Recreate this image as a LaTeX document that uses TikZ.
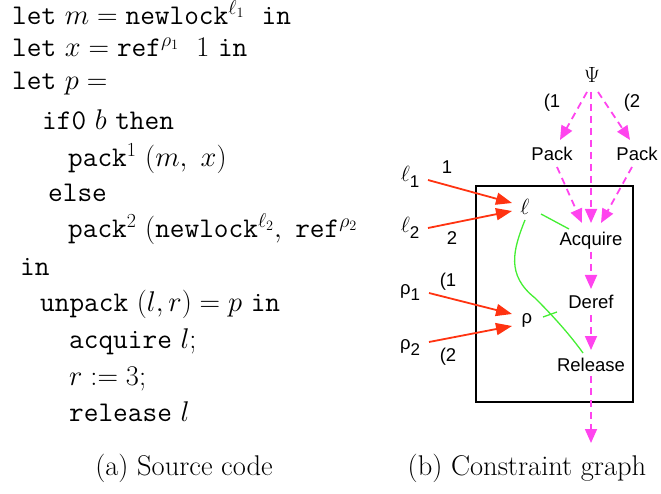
\RequirePackage{fix-cm}
\documentclass[tikz,border=0pt]{standalone}
\usepackage{fontspec}
\newfontfamily\gsf{Liberation Sans}
\usetikzlibrary{arrows.meta}
\definecolor{pinkc}{HTML}{FF44EE}
\definecolor{redc}{HTML}{FF3311}
\definecolor{greenc}{HTML}{44EE33}
\newcommand{\gsub}[1]{\raisebox{-6pt}{\gsf\fontsize{17}{17}\selectfont #1}}
\begin{document}
\begin{tikzpicture}[x=1pt,y=-1pt,
  code/.style={anchor=base west, inner sep=0pt, font=\fontsize{28.5}{34}\selectfont},
  capt/.style={anchor=base, inner sep=0pt, font=\fontsize{28.5}{34}\selectfont},
  glabel/.style={inner sep=1pt, font=\gsf\fontsize{18.5}{20}\selectfont},
  mlabel/.style={inner sep=1pt, font=\fontsize{22}{23}\selectfont},
  pinkarrow/.style={pinkc, line width=1.8pt, dash pattern=on 7pt off 5pt, -{Triangle[length=14pt,width=12pt]}},
  redarrow/.style={redc, line width=1.8pt, -{Triangle[length=16pt,width=12pt]}},
  greenline/.style={greenc, line width=1.3pt}]
\useasboundingbox (0,0) rectangle (661,494);
% ---------- source code ----------
\node[code] (c1) at (12,25) {\texttt{let} $m = \texttt{newlock}^{\ell_1}$~~\texttt{in}};
\node[code] (c2) at (12,57) {\texttt{let} $x = \texttt{ref}^{\rho_1}$~~$1$ \texttt{in}};
\node[code] (c3) at (12,90) {\texttt{let} $p =$};
\node[code] (c4) at (42,130) {\texttt{if0} $b$ \texttt{then}};
\node[code] (c5) at (68,167) {$\texttt{pack}^1$ $(m,~x)$};
\node[code] (c6) at (48,202) {\texttt{else}};
\begin{scope}
\clip (0,0) rectangle (381,494);
\node[code] (c7) at (68,238) {$\texttt{pack}^2$~$(\texttt{newlock}^{\ell_2},~\texttt{ref}^{\rho_2}$};
\end{scope}
\node[code] (c8) at (20,276) {\texttt{in}};
\node[code] (c9) at (40,312) {\texttt{unpack} $(l,r) = p$ \texttt{in}};
\node[code] (c10) at (69,348) {\texttt{acquire} $l$;};
\node[code] (c11) at (69,385) {$r := 3$;};
\node[code] (c12) at (69,421) {\texttt{release} $l$};
\node[capt] (capa) at (184,475) {(a) Source code};
\node[capt] (capb) at (527,475) {(b) Constraint graph};
% ---------- constraint graph ----------
\draw[line width=1.2pt] (476,186) rectangle (633,402);
\node[mlabel] (psi) at (592,75) {$\Psi$};
\node[glabel] (o1) at (552,103) {(1};
\node[glabel] (o2) at (632,103) {(2};
\node[glabel] (packL) at (552,154) {Pack};
\node[glabel] (packR) at (637,154) {Pack};
\node[mlabel] (ell) at (525,207) {$\ell$};
\node[glabel] (acq) at (591,241) {Acquire};
\node[glabel] (deref) at (591,302) {Deref};
\node[glabel] (rho) at (527,320) {ρ};
\node[glabel] (rel) at (591,365) {Release};
\coordinate (out) at (591,443);
\node[mlabel] (ell1) at (410,177) {$\ell$\gsub{1}};
\node[mlabel] (ell2) at (410,228) {$\ell$\gsub{2}};
\node[glabel] (rho1) at (410,293) {ρ\gsub{1}};
\node[glabel] (rho2) at (410,348) {ρ\gsub{2}};
\node[glabel] (n1) at (447,167) {1};
\node[glabel] (n2) at (452,238) {2};
\node[glabel] (p1) at (448,282) {(1};
\node[glabel] (p2) at (448,357) {(2};
% pink arrows
\draw[pinkarrow] ([shift={(-5,17)}]psi.center) -- ([shift={(8,-14)}]packL.center);
\draw[pinkarrow] ([shift={(6,17)}]psi.center) -- ([shift={(-7,-14)}]packR.center);
\draw[pinkarrow] ([shift={(-1,17)}]psi.center) -- ([shift={(0,-18)}]acq.center);
\draw[pinkarrow] ([shift={(5,13)}]packL.center) -- ([shift={(-9,-18)}]acq.center);
\draw[pinkarrow] ([shift={(-5,13)}]packR.center) -- ([shift={(10,-18)}]acq.center);
\draw[pinkarrow] ([shift={(0,11)}]acq.center) -- ([shift={(0,-13)}]deref.center);
\draw[pinkarrow] ([shift={(0,13)}]deref.center) -- ([shift={(0,-15)}]rel.center);
\draw[pinkarrow] ([shift={(0,11)}]rel.center) -- (out);
% red arrows
\draw[redarrow] ([shift={(18,3)}]ell1.center) -- ([shift={(-13,-4)}]ell.center);
\draw[redarrow] ([shift={(18,0)}]ell2.center) -- ([shift={(-13,4)}]ell.center);
\draw[redarrow] ([shift={(19,0)}]rho1.center) -- ([shift={(-15,-6)}]rho.center);
\draw[redarrow] ([shift={(19,-6)}]rho2.center) -- ([shift={(-15,6)}]rho.center);
% green lines
\draw[greenline] ([shift={(16,7)}]ell.center) -- ([shift={(-22,-12)}]acq.center);
\draw[greenline] ([shift={(0,13)}]ell.center) .. controls (513,250) and (506,275) .. (535,298)
   .. controls (555,318) and (570,335) .. ([shift={(-8,-12)}]rel.center);
\draw[greenline] ([shift={(16,-3)}]rho.center) -- ([shift={(30,-8)}]rho.center);
\end{tikzpicture}
\end{document}
